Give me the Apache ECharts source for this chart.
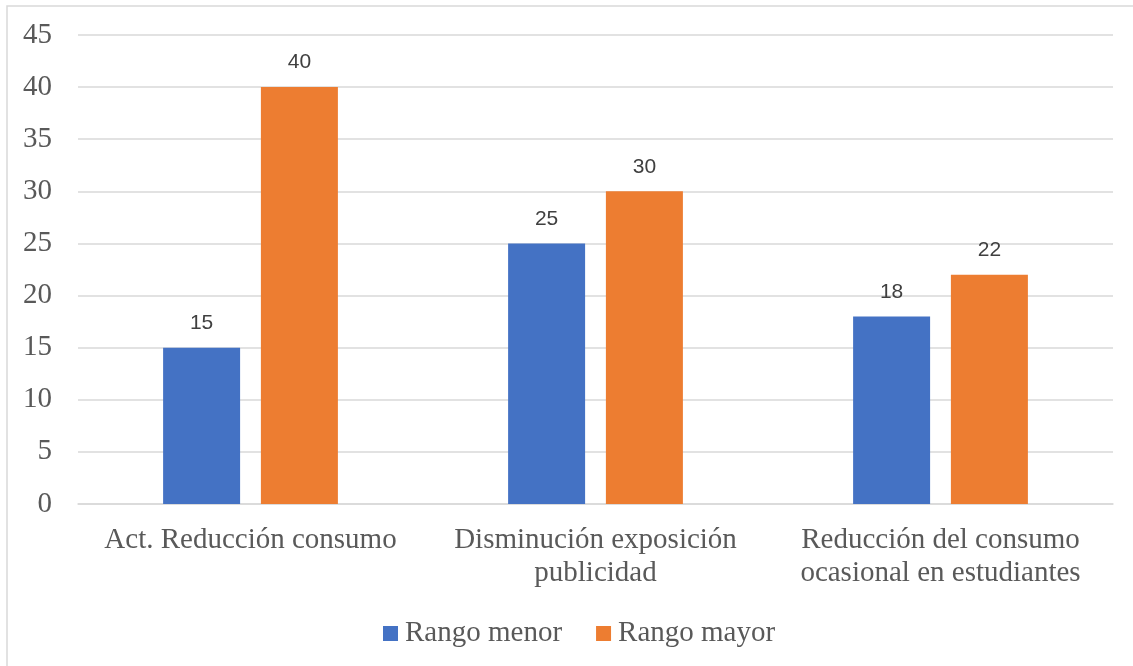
<!DOCTYPE html>
<html>
<head>
<meta charset="utf-8">
<script src="https://cdn.jsdelivr.net/npm/echarts@6/dist/echarts.min.js"></script>
<style>html,body{margin:0;padding:0;background:#fff;}#c{width:1133px;height:666px;}</style>
</head>
<body>
<div id="c"></div>
<script>
const categories = ['Act. Reducción consumo', 'Disminución exposición\npublicidad', 'Reducción del consumo\nocasional en estudiantes'];
const seriesNames = ['Rango menor', 'Rango mayor'];
const rangoMenor = [15, 25, 18];
const rangoMayor = [40, 30, 22];
const yTicks = { min: 0, max: 45, interval: 5 };

const chart = echarts.init(document.getElementById('c'), null, { renderer: 'canvas' });
const serif = '"Liberation Serif", "Times New Roman", serif';
const sans = '"Liberation Sans", Arial, sans-serif';
const txt = '#595959';
const labelCfg = { show: true, position: 'top', distance: 14, color: '#404040', fontFamily: sans, fontSize: 21 };
chart.setOption({
  animation: false,
  backgroundColor: '#fff',
  graphic: [{ type: 'rect', shape: { x: 7, y: 6, width: 1200, height: 720 }, style: { fill: 'none', stroke: '#d9d9d9', lineWidth: 1.5 }, silent: true }],
  grid: { left: 78, right: 20, top: 35, bottom: 162, containLabel: false },
  legend: {
    data: seriesNames, top: 614, left: 378, itemWidth: 15, itemHeight: 15, itemGap: 34,
    icon: 'rect', textStyle: { color: txt, fontFamily: serif, fontSize: 29, padding: [0, 0, 0, 2] }
  },
  xAxis: {
    type: 'category', data: categories,
    axisLine: { lineStyle: { color: '#d9d9d9', width: 1.5 } },
    axisTick: { show: false },
    axisLabel: { color: txt, fontFamily: serif, fontSize: 29, lineHeight: 33, margin: 20, interval: 0 }
  },
  yAxis: {
    type: 'value', min: yTicks.min, max: yTicks.max, interval: yTicks.interval,
    axisLine: { show: false }, axisTick: { show: false },
    axisLabel: { color: txt, fontFamily: serif, fontSize: 29, margin: 26 },
    splitLine: { lineStyle: { color: '#d9d9d9', width: 1.5 } }
  },
  series: [
    { name: seriesNames[0], type: 'bar', data: rangoMenor, barWidth: 77, barGap: '27%', itemStyle: { color: '#4472C4' }, label: labelCfg },
    { name: seriesNames[1], type: 'bar', data: rangoMayor, barWidth: 77, itemStyle: { color: '#ED7D31' }, label: labelCfg }
  ]
});
</script>
</body>
</html>
